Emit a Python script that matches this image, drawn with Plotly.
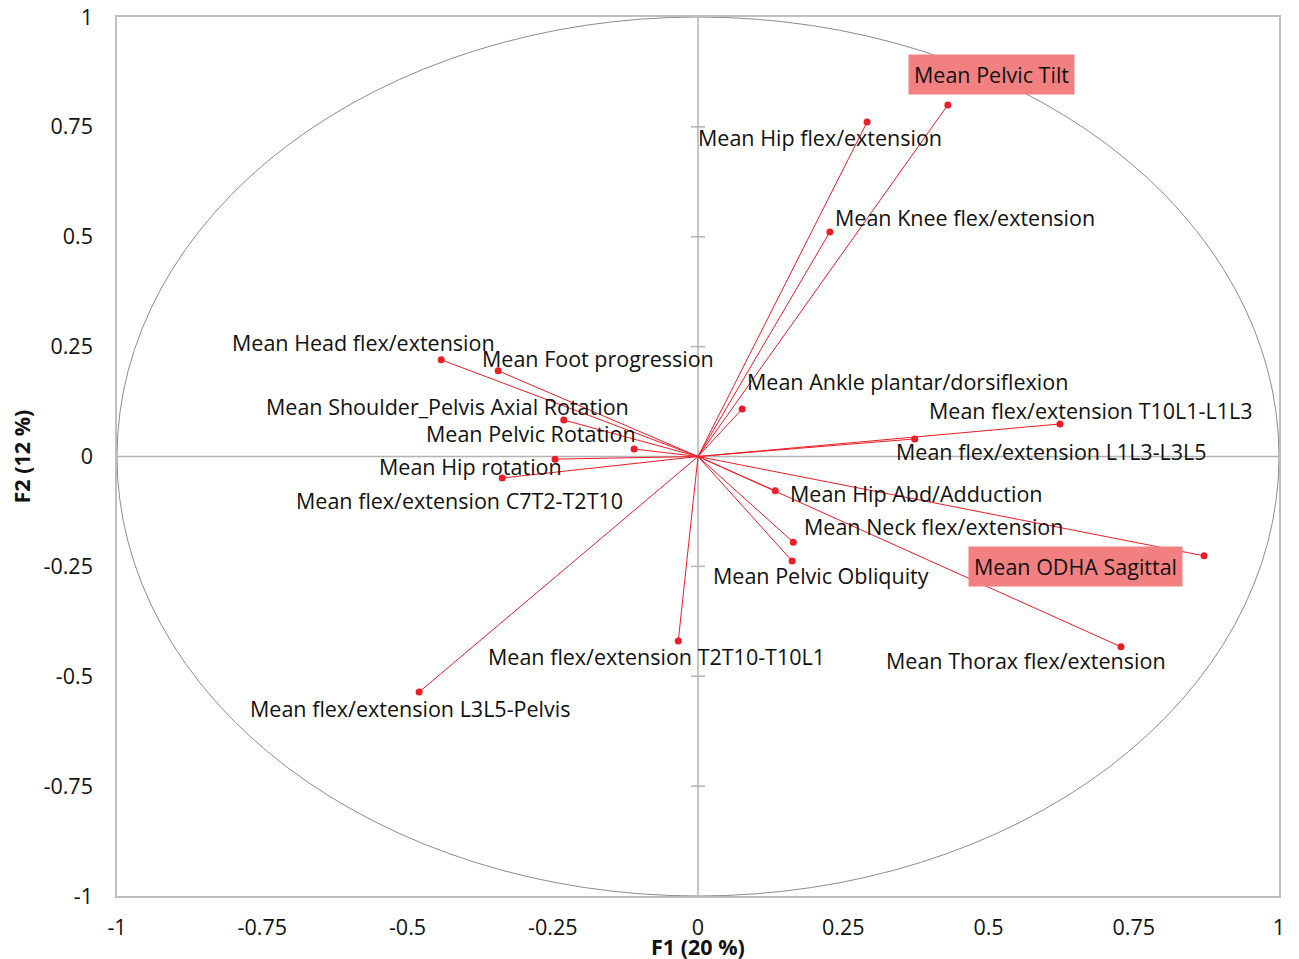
import plotly.graph_objects as go

# ---- data ----
variables = [
    "Mean Pelvic Tilt", "Mean Hip flex/extension", "Mean Knee flex/extension",
    "Mean Head flex/extension", "Mean Foot progression", "Mean Ankle plantar/dorsiflexion",
    "Mean Shoulder_Pelvis Axial Rotation", "Mean flex/extension T10L1-L1L3",
    "Mean Pelvic Rotation", "Mean flex/extension L1L3-L3L5", "Mean Hip rotation",
    "Mean flex/extension C7T2-T2T10", "Mean Hip Abd/Adduction", "Mean Neck flex/extension",
    "Mean Pelvic Obliquity", "Mean ODHA Sagittal", "Mean Thorax flex/extension",
    "Mean flex/extension T2T10-T10L1", "Mean flex/extension L3L5-Pelvis",
]
f1 = [0.430, 0.291, 0.227, -0.442, -0.344, 0.076, -0.231, 0.623, -0.110, 0.373,
      -0.246, -0.337, 0.133, 0.164, 0.162, 0.871, 0.728, -0.034, -0.480]
f2 = [0.800, 0.761, 0.511, 0.220, 0.195, 0.108, 0.083, 0.074, 0.017, 0.040,
      -0.006, -0.049, -0.078, -0.195, -0.238, -0.226, -0.433, -0.420, -0.536]
highlighted = ["Mean Pelvic Tilt", "Mean ODHA Sagittal"]
tick_vals = [-1, -0.75, -0.5, -0.25, 0, 0.25, 0.5, 0.75, 1]
tick_text = ["-1", "-0.75", "-0.5", "-0.25", "0", "0.25", "0.5", "0.75", "1"]
x_title = "F1 (20 %)"
y_title = "F2 (12 %)"

# label offsets in pixels (xshift, yshift) relative to each point
label_offsets = [(-40, 30), (-171, -15), (3, 14), (-211, 17), (-18, 12), (3, 28),
                 (-300, 14), (-133, 13), (-210, 16), (-21, -13), (-178, -7),
                 (-208, -22), (13, -3), (9, 16), (-81, -14), (-236, -11),
                 (-237, -14), (-192, -15), (-171, -16)]

FONT = "Open Sans"
FS = 21.5
RED = "#ee1c25"
GRID = "#bfbfbf"
ZERO = "#b3b3b3"

fig = go.Figure()

# vectors from origin
lx, ly = [], []
for x, y in zip(f1, f2):
    lx += [0, x, None]
    ly += [0, y, None]
fig.add_trace(go.Scatter(x=lx, y=ly, mode="lines", line=dict(color=RED, width=1),
                         hoverinfo="skip", showlegend=False))
fig.add_trace(go.Scatter(x=f1, y=f2, mode="markers", text=variables,
                         marker=dict(color=RED, size=7), showlegend=False))

shapes = []
# correlation circle
shapes.append(dict(type="circle", xref="x", yref="y", x0=-1, y0=-1, x1=1, y1=1,
                   line=dict(color="#8c8c8c", width=1), layer="below"))
# zero lines
shapes.append(dict(type="line", xref="x", yref="y", x0=-1, x1=1, y0=0, y1=0,
                   line=dict(color=ZERO, width=1.5), layer="below"))
shapes.append(dict(type="line", xref="x", yref="y", x0=0, x1=0, y0=-1, y1=1,
                   line=dict(color=ZERO, width=1.5), layer="below"))
# cross tick marks on the vertical zero line
for t in tick_vals:
    if t in (-1, 0, 1):
        continue
    shapes.append(dict(type="line", xref="x", yref="y", xsizemode="pixel", xanchor=0,
                       x0=-7, x1=7, y0=t, y1=t, line=dict(color=ZERO, width=1.5), layer="below"))

annotations = []
for name, x, y, (dx, dy) in zip(variables, f1, f2, label_offsets):
    hl = name in highlighted
    annotations.append(dict(
        x=x, y=y, xref="x", yref="y", text=name, showarrow=False,
        xanchor="left", yanchor="middle", xshift=dx, yshift=dy,
        font=dict(family=FONT, size=FS, color="#111111"),
        bgcolor="#f28080" if hl else None, borderpad=5 if hl else 1,
    ))

# axis titles
annotations.append(dict(x=0.5, y=-0.0569, xref="paper", yref="paper", text="<b>%s</b>" % x_title,
                        showarrow=False, xanchor="center", yanchor="middle",
                        font=dict(family=FONT, size=FS, color="#111111")))
annotations.append(dict(x=-0.0818, y=0.5, xref="paper", yref="paper", text="<b>%s</b>" % y_title,
                        showarrow=False, xanchor="center", yanchor="middle", textangle=-90,
                        font=dict(family=FONT, size=FS, color="#111111")))

fig.update_layout(
    width=1291, height=951,
    margin=dict(l=109, r=20, t=9, b=63, autoexpand=False),
    paper_bgcolor="white", plot_bgcolor="white",
    font=dict(family=FONT, size=FS, color="#111111"),
    shapes=shapes, annotations=annotations,
    xaxis=dict(range=[-1, 1], tickvals=tick_vals, ticktext=tick_text, showgrid=False,
               zeroline=False, showline=True, mirror=True, linecolor=GRID, linewidth=1.5,
               ticks="", ticklabelstandoff=11, automargin=False, ticklabeloverflow="allow"),
    yaxis=dict(range=[-1, 1], tickvals=tick_vals, ticktext=tick_text, showgrid=False,
               zeroline=False, showline=True, mirror=True, linecolor=GRID, linewidth=1.5,
               ticks="", ticklabelstandoff=18, automargin=False, ticklabeloverflow="allow"),
)

fig.write_html("out.html")
